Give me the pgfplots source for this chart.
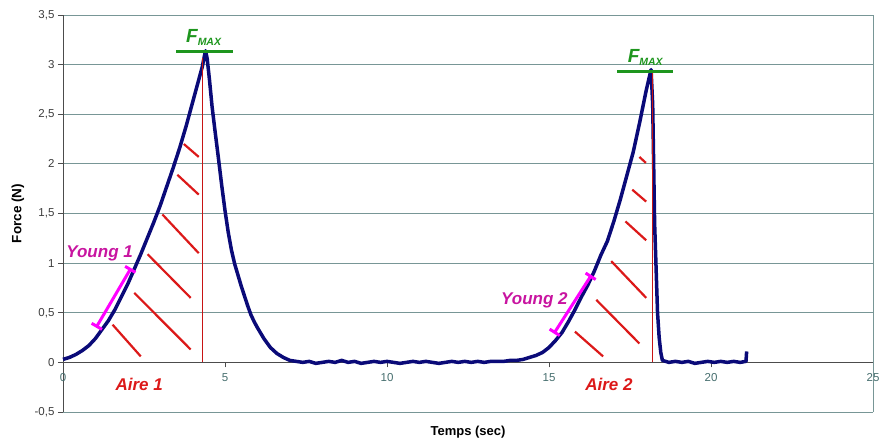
\documentclass[border=0pt]{standalone}
\usepackage{pgfplots}
\pgfplotsset{compat=1.18}
\usepackage{fontspec}
\setmainfont{Liberation Sans}
\usetikzlibrary{arrows.meta}
\definecolor{curve}{RGB}{10,10,120}
\definecolor{gridc}{RGB}{120,150,150}
\definecolor{redl}{RGB}{220,25,25}
\definecolor{redv}{RGB}{200,20,20}
\definecolor{mag}{RGB}{255,0,255}
\definecolor{magt}{RGB}{200,20,160}
\definecolor{grn}{RGB}{30,150,30}
\definecolor{xtc}{RGB}{70,110,110}
\definecolor{ytc}{RGB}{60,60,60}

\pgfplotstableread{
x y
0 0.03
0.2 0.05
0.4 0.08
0.6 0.12
0.8 0.17
1.0 0.24
1.2 0.33
1.4 0.42
1.6 0.53
1.8 0.66
2.0 0.79
2.2 0.94
2.4 1.09
2.6 1.25
2.8 1.41
3.0 1.58
3.2 1.77
3.4 1.96
3.6 2.16
3.8 2.38
4.0 2.62
4.2 2.86
4.3 2.98
4.36 3.08
4.40 3.14
4.45 3.06
4.52 2.85
4.60 2.58
4.70 2.31
4.8 2.05
4.9 1.78
5.0 1.53
5.1 1.31
5.2 1.13
5.3 0.99
5.4 0.88
5.5 0.77
5.6 0.67
5.7 0.57
5.8 0.48
5.9 0.41
6.0 0.35
6.2 0.24
6.4 0.15
6.6 0.09
6.8 0.05
7.0 0.02
7.2 0.01
7.4 0.00
7.6 0.01
7.8 -0.01
8.0 0.00
8.2 0.01
8.4 0.00
8.6 0.02
8.8 0.00
9.0 0.01
9.2 -0.01
9.4 0.00
9.6 0.01
9.8 0.00
10.0 0.01
10.2 0.00
10.4 -0.01
10.6 0.00
10.8 0.01
11.0 0.00
11.2 0.01
11.4 0.00
11.6 -0.01
11.8 0.00
12.0 0.01
12.2 0.00
12.4 0.01
12.6 0.00
12.8 0.01
13.0 0.00
13.2 0.01
13.4 0.01
13.6 0.01
13.8 0.02
14.0 0.02
14.2 0.03
14.4 0.05
14.6 0.07
14.8 0.10
15.0 0.15
15.2 0.22
15.4 0.30
15.6 0.41
15.8 0.53
16.0 0.66
16.2 0.78
16.4 0.92
16.6 1.08
16.8 1.22
17.0 1.42
17.2 1.64
17.4 1.88
17.6 2.12
17.8 2.42
18.0 2.74
18.1 2.88
18.15 2.95
18.2 2.60
18.23 2.00
18.26 1.40
18.3 1.00
18.35 0.50
18.4 0.25
18.45 0.10
18.5 0.02
18.7 0.00
18.9 0.01
19.1 0.00
19.3 0.01
19.5 -0.01
19.7 0.00
19.9 0.01
20.1 0.00
20.3 0.01
20.5 0.00
20.7 0.01
20.9 0.00
21.08 0.01
21.1 0.11
}\curvedata

\begin{document}
\begin{tikzpicture}
\begin{axis}[
  name=ax,
  scale only axis, width=810pt, height=397pt,
  xmin=0, xmax=25, ymin=-0.5, ymax=3.5,
  axis x line=middle, axis y line=left,
  axis line style={-, draw=black!70, line width=0.8pt},
  hide obscured x ticks=false,
  xtick={0,5,...,25}, ytick={-0.5,0,...,3.5},
  ymajorgrids, grid style={gridc, line width=0.8pt},
  tick align=outside, major tick length=5pt,
  tick style={draw=black!70, line width=0.8pt},
  /pgf/number format/assume math mode=true,
  /pgf/number format/use comma,
  /pgf/number format/fixed,
  /pgf/number format/precision=1,
  x tick label style={font=\fontsize{11.5}{13}\selectfont, text=xtc, yshift=-3pt},
  y tick label style={font=\fontsize{11.5}{13}\selectfont, text=ytc},
  ylabel={Force (N)},
  every axis y label/.style={at={(axis description cs:-0.0556,0.5)}, anchor=center, rotate=90, font=\fontsize{13.5}{15}\selectfont\bfseries},
  xlabel={Temps (sec)},
  every axis x label/.style={at={(axis description cs:0.5,0)}, anchor=base, yshift=-23pt, inner sep=0pt, font=\fontsize{13}{15}\selectfont\bfseries},
  clip=false,
]
\draw[gridc, line width=0.8pt] (rel axis cs:1,0) -- (rel axis cs:1,1);
\addplot[curve, line width=3.5pt, line join=round] table {\curvedata};
% vertical red lines
\addplot[redv, line width=1.6pt] coordinates {(4.31,0) (4.31,3.07)};
\addplot[redv, line width=1.6pt] coordinates {(18.20,0) (18.20,2.92)};
% hatch Aire 1
\addplot[redl, line width=2.2pt] coordinates {(1.53,0.38) (2.40,0.06)};
\addplot[redl, line width=2.2pt] coordinates {(2.20,0.70) (3.94,0.13)};
\addplot[redl, line width=2.2pt] coordinates {(2.61,1.09) (3.94,0.65)};
\addplot[redl, line width=2.2pt] coordinates {(3.07,1.49) (4.19,1.10)};
\addplot[redl, line width=2.2pt] coordinates {(3.53,1.89) (4.19,1.69)};
\addplot[redl, line width=2.2pt] coordinates {(3.73,2.20) (4.19,2.07)};
% hatch Aire 2
\addplot[redl, line width=2.2pt] coordinates {(15.80,0.31) (16.67,0.06)};
\addplot[redl, line width=2.2pt] coordinates {(16.46,0.63) (17.79,0.19)};
\addplot[redl, line width=2.2pt] coordinates {(16.92,1.02) (18.00,0.65)};
\addplot[redl, line width=2.2pt] coordinates {(17.36,1.42) (18.00,1.23)};
\addplot[redl, line width=2.2pt] coordinates {(17.57,1.74) (18.00,1.62)};
\addplot[redl, line width=2.2pt] coordinates {(17.79,2.07) (17.99,2.01)};
% Young bars
\addplot[mag, line width=3pt, {Bar[width=12pt,line width=3pt]}-{Bar[width=12pt,line width=3pt]}] coordinates {(1.02,0.35) (2.10,0.95)};
\addplot[mag, line width=3pt, {Bar[width=12pt,line width=3pt]}-{Bar[width=12pt,line width=3pt]}] coordinates {(15.15,0.29) (16.31,0.88)};
% Fmax lines
\addplot[grn, line width=2.5pt] coordinates {(3.50,3.13) (5.26,3.13)};
\addplot[grn, line width=2.5pt] coordinates {(17.10,2.93) (18.84,2.93)};
% labels
\node[text=magt, font=\fontsize{17}{20}\selectfont\bfseries\itshape] at (axis cs:1.13,1.10) {Young 1};
\node[text=magt, font=\fontsize{17}{20}\selectfont\bfseries\itshape] at (axis cs:14.55,0.63) {Young 2};
\node[text=redl, font=\fontsize{17}{20}\selectfont\bfseries\itshape] at (axis cs:2.35,-0.225) {Aire 1};
\node[text=redl, font=\fontsize{17}{20}\selectfont\bfseries\itshape] at (axis cs:16.85,-0.225) {Aire 2};
\node[text=grn, font=\bfseries\itshape] at (axis cs:4.34,3.27) {{\fontsize{19}{20}\selectfont F}{\fontsize{10.5}{12}\selectfont\raisebox{-3pt}{MAX}}};
\node[text=grn, font=\bfseries\itshape] at (axis cs:17.97,3.07) {{\fontsize{19}{20}\selectfont F}{\fontsize{10.5}{12}\selectfont\raisebox{-3pt}{MAX}}};
\end{axis}
\pgfresetboundingbox
\path[use as bounding box] ([xshift=-63pt,yshift=-27pt]ax.south west) rectangle ([xshift=7pt,yshift=15pt]ax.north east);
\end{tikzpicture}
\end{document}
